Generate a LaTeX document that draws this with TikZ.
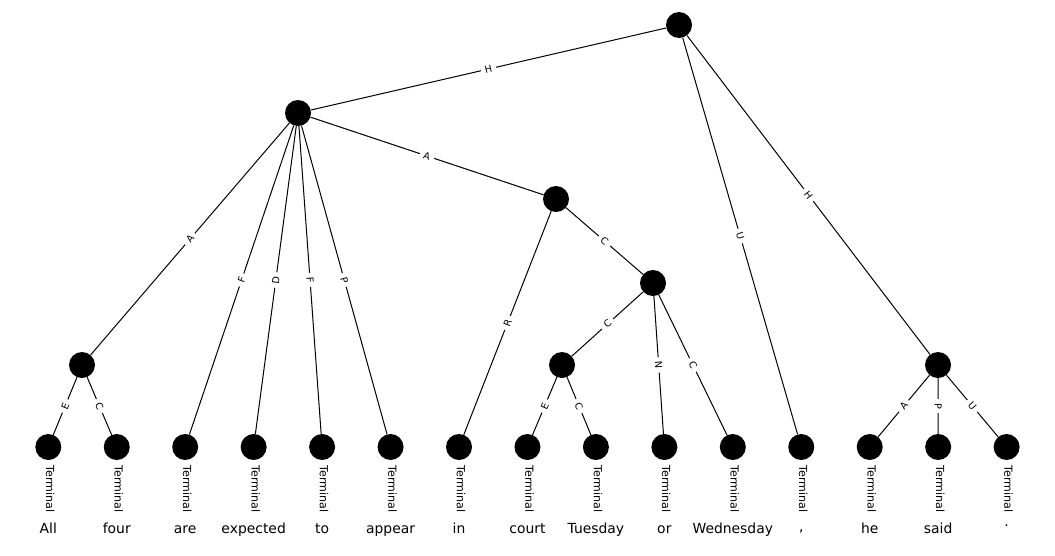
\documentclass[tikz,border=0pt]{standalone}
\usepackage{fontspec}
\setmainfont{DejaVu Sans}
\begin{document}
\begin{tikzpicture}[x=1pt,y=-1pt,
  vert/.style={circle,fill=black,inner sep=0pt,minimum size=26pt},
  link/.style={line width=1pt,black},
  elabel/.style={font=\fontsize{9.7}{10}\selectfont,fill=white,inner xsep=4pt,inner ysep=1pt,sloped,midway},
  tlabel/.style={font=\fontsize{11.1}{12}\selectfont,rotate=-90,inner sep=0pt},
  word/.style={font=\fontsize{13.9}{15}\selectfont,anchor=base,inner sep=0pt}]
\useasboundingbox[fill=white] (0,0) rectangle (1055,555);

% inner vertices
\node[vert] (r)  at (679,25)  {};
\node[vert] (n1) at (298,113) {};
\node[vert] (n2) at (556,199) {};
\node[vert] (n3) at (653,283) {};
\node[vert] (n4) at (82,365)  {};
\node[vert] (n5) at (562,365) {};
\node[vert] (n6) at (938,365) {};

% terminal vertices with their type labels
\foreach \i in {1,...,15}{
  \pgfmathsetmacro{\tx}{48.3+68.45*(\i-1)}
  \node[vert] (t\i) at (\tx,447) {};
  \node[tlabel] (lab\i) at (\tx+2,489) {Terminal};
}

% words
\node[word] (w1)  at (t1.center  |- 0,533) {All};
\node[word] (w2)  at (t2.center  |- 0,533) {four};
\node[word] (w3)  at (t3.center  |- 0,533) {are};
\node[word] (w4)  at (t4.center  |- 0,533) {expected};
\node[word] (w5)  at (t5.center  |- 0,533) {to};
\node[word] (w6)  at (t6.center  |- 0,533) {appear};
\node[word] (w7)  at (t7.center  |- 0,533) {in};
\node[word] (w8)  at (t8.center  |- 0,533) {court};
\node[word] (w9)  at (t9.center  |- 0,533) {Tuesday};
\node[word] (w10) at (t10.center |- 0,533) {or};
\node[word] (w11) at (t11.center |- 0,533) {Wednesday};
\node[word] (w12) at (t12.center |- 0,531) {,};
\node[word] (w13) at (t13.center |- 0,533) {he};
\node[word] (w14) at (t14.center |- 0,533) {said};
\node[word] (w15) at (t15.center |- 0,526) {.};

% edges
\begin{scope}[link]
\draw (r) -- node[elabel]{H} (n1);
\draw (r) -- node[elabel]{U} (t12);
\draw (r) -- node[elabel]{H} (n6);
\draw (n1) -- node[elabel]{A} (n4);
\draw (n1) -- node[elabel]{F} (t3);
\draw (n1) -- node[elabel]{D} (t4);
\draw (n1) -- node[elabel]{F} (t5);
\draw (n1) -- node[elabel]{P} (t6);
\draw (n1) -- node[elabel]{A} (n2);
\draw (n2) -- node[elabel]{R} (t7);
\draw (n2) -- node[elabel]{C} (n3);
\draw (n3) -- node[elabel]{C} (n5);
\draw (n3) -- node[elabel]{N} (t10);
\draw (n3) -- node[elabel]{C} (t11);
\draw (n5) -- node[elabel]{E} (t8);
\draw (n5) -- node[elabel]{C} (t9);
\draw (n4) -- node[elabel]{E} (t1);
\draw (n4) -- node[elabel]{C} (t2);
\draw (n6) -- node[elabel]{A} (t13);
\draw (n6) -- node[elabel]{P} (t14);
\draw (n6) -- node[elabel]{U} (t15);
\end{scope}
\end{tikzpicture}
\end{document}
